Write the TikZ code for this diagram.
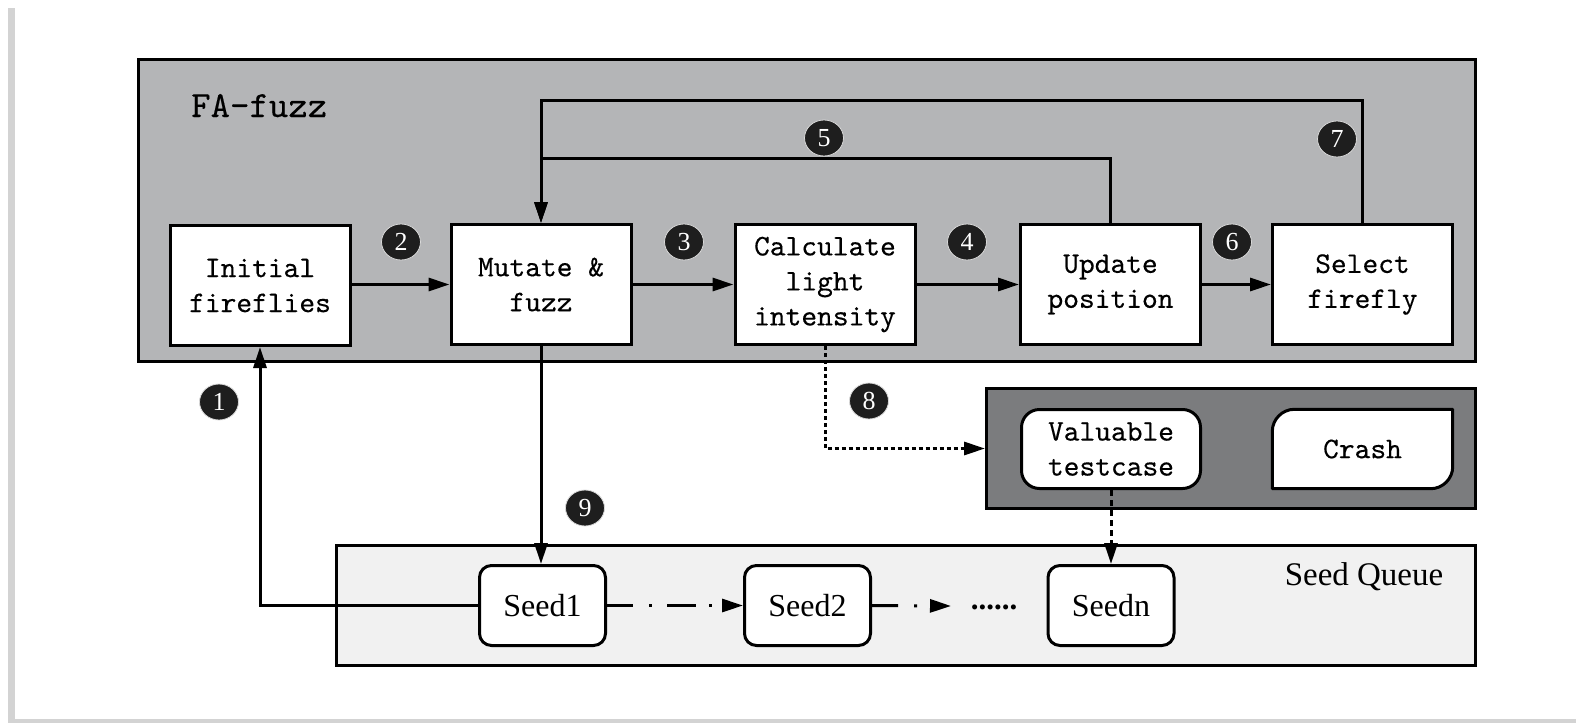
\documentclass[tikz,border=0pt]{standalone}
\usepackage{fontspec}
\usetikzlibrary{arrows.meta,shapes.geometric,calc}
\newfontfamily\boxfont{lmmono10-regular.otf}[FakeBold=0.3]
\newfontfamily\serifx{Liberation Serif}

\definecolor{fagray}{HTML}{B4B5B7}
\definecolor{outgray}{HTML}{7B7C7E}
\definecolor{queuegray}{HTML}{F1F1F1}
\definecolor{shadowgray}{HTML}{D3D3D3}
\definecolor{numfill}{HTML}{1E1E1E}

\tikzset{
  panel/.style={draw=black, line width=3pt, inner sep=0pt},
  boxtext/.style={font={\boxfont\fontsize{30}{35}\selectfont}},
  proc/.style={boxtext, draw=black, fill=white, line width=3pt, inner sep=0pt,
    minimum width=180pt, minimum height=120pt, align=center},
  store/.style={boxtext, draw=black, fill=white, line width=3pt, inner sep=0pt,
    rounded corners=18pt, minimum width=179pt, minimum height=79pt, align=center},
  seedbox/.style={draw=black, fill=white, line width=3pt, inner sep=0pt,
    rounded corners=12pt, minimum width=126pt, minimum height=80pt,
    font={\serifx\fontsize{32}{34}\selectfont}},
  num/.style={ellipse, fill=numfill, draw=white!85!black, line width=0.8pt,
    minimum width=39pt, minimum height=36pt, inner sep=0pt, text=white,
    font={\serifx\fontsize{26}{26}\selectfont}},
  flow/.style={line width=3pt, -{Triangle[length=21pt,width=13pt]}},
  dotflow/.style={flow, dash pattern=on 4pt off 3pt},
  dashflow/.style={flow, dash pattern=on 6pt off 4pt},
}

\begin{document}
\begin{tikzpicture}[x=1pt, y=-1pt]
\useasboundingbox (0,0) rectangle (1576,723);

% page edge shading
\fill[shadowgray] (8,8) rectangle (15,723);
\fill[shadowgray] (8,719) rectangle (1576,723);

% containers
\node[panel, fill=fagray, minimum width=1337pt, minimum height=302pt] (fa) at (807,210.5) {};
\node[anchor=base west, inner sep=0pt, font={\boxfont\fontsize{37}{37}\selectfont}] (falabel) at (191,117) {FA-fuzz};
\node[panel, fill=outgray, minimum width=489pt, minimum height=120pt] (out) at (1231,448.5) {};
\node[panel, fill=queuegray, minimum width=1139pt, minimum height=120pt] (queue) at (906,605.5) {};
\node[inner sep=0pt, font={\serifx\fontsize{33}{34}\selectfont}] (qlabel) at (1364,577) {Seed Queue};

% process steps
\node[proc] (init) at (260,285.5) {Initial\\fireflies};
\node[proc] (mut)  at (541,284.5) {Mutate \&\\fuzz};
\node[proc] (calc) at (825,284.5) {Calculate\\light\\intensity};
\node[proc] (upd)  at (1110.5,284.5) {Update\\position};
\node[proc] (sel)  at (1362.5,284.5) {Select\\firefly};

% outputs
\node[store] (val) at (1111,449) {Valuable\\testcase};
\node[boxtext, inner sep=0pt, minimum width=180pt, minimum height=79pt] (crash) at (1362.5,449) {};
% crash box: rounded top-left and bottom-right corners only
\draw[line width=3pt, fill=white, line join=round]
  (crash.south west) -- ($(crash.north west)+(0,22)$)
  .. controls ($(crash.north west)+(0,10)$) and ($(crash.north west)+(10,0)$)
  .. ($(crash.north west)+(22,0)$)
  -- (crash.north east) -- ($(crash.south east)+(0,-22)$)
  .. controls ($(crash.south east)+(0,-10)$) and ($(crash.south east)+(-10,0)$)
  .. ($(crash.south east)+(-22,0)$)
  -- cycle;
\node[boxtext] (crashtext) at (crash) {Crash};

% seed queue
\node[seedbox] (s1) at (542.5,605.5) {Seed1};
\node[seedbox] (s2) at (807.5,605.5) {Seed2};
\node[seedbox] (sn) at (1111,605.5) {Seedn};
\coordinate (q2) at (951,606);
\node[anchor=base, inner sep=0pt, font={\serifx\bfseries\fontsize{31}{34}\selectfont}] (more) at (994,609) {......};

% loop heights
\coordinate (top7) at (0,100);
\coordinate (top5) at (0,158);

% connectors
\draw[flow] (init.east |- mut.west) -- (mut.west);
\draw[flow] (mut.east) -- (calc.west);
\draw[flow] (calc.east) -- (upd.west);
\draw[flow] (upd.east) -- (sel.west);
\draw[flow] (sel.north) -- (sel.north |- top7) -| (mut.north);
\draw[flow] (upd.north) -- (upd.north |- top5) -| (mut.north);
\draw[flow] (mut.south) -- (mut.south |- s1.north);
\draw[flow] (s1.west) -| (init.south);
\draw[dotflow] (calc.south) |- (out.west);
\draw[dashflow] (val.south) -- (sn.north);
\draw[flow, dash pattern=on 26pt off 16pt on 3pt off 15pt on 29pt off 13pt on 3pt off 30pt] (s1.east) -- (s2.west);
\draw[flow, dash pattern=on 26pt off 16pt on 3pt off 40pt] (s2.east) -- (q2);

% step numbers
\node[num] (c1) at (219,402) {1};
\node[num] (c2) at (401,242) {2};
\node[num] (c3) at (684,242) {3};
\node[num] (c4) at (967,242) {4};
\node[num] (c5) at (824,138) {5};
\node[num] (c6) at (1232,242) {6};
\node[num] (c7) at (1337,139) {7};
\node[num] (c8) at (869,401) {8};
\node[num] (c9) at (585,508) {9};
\end{tikzpicture}
\end{document}
